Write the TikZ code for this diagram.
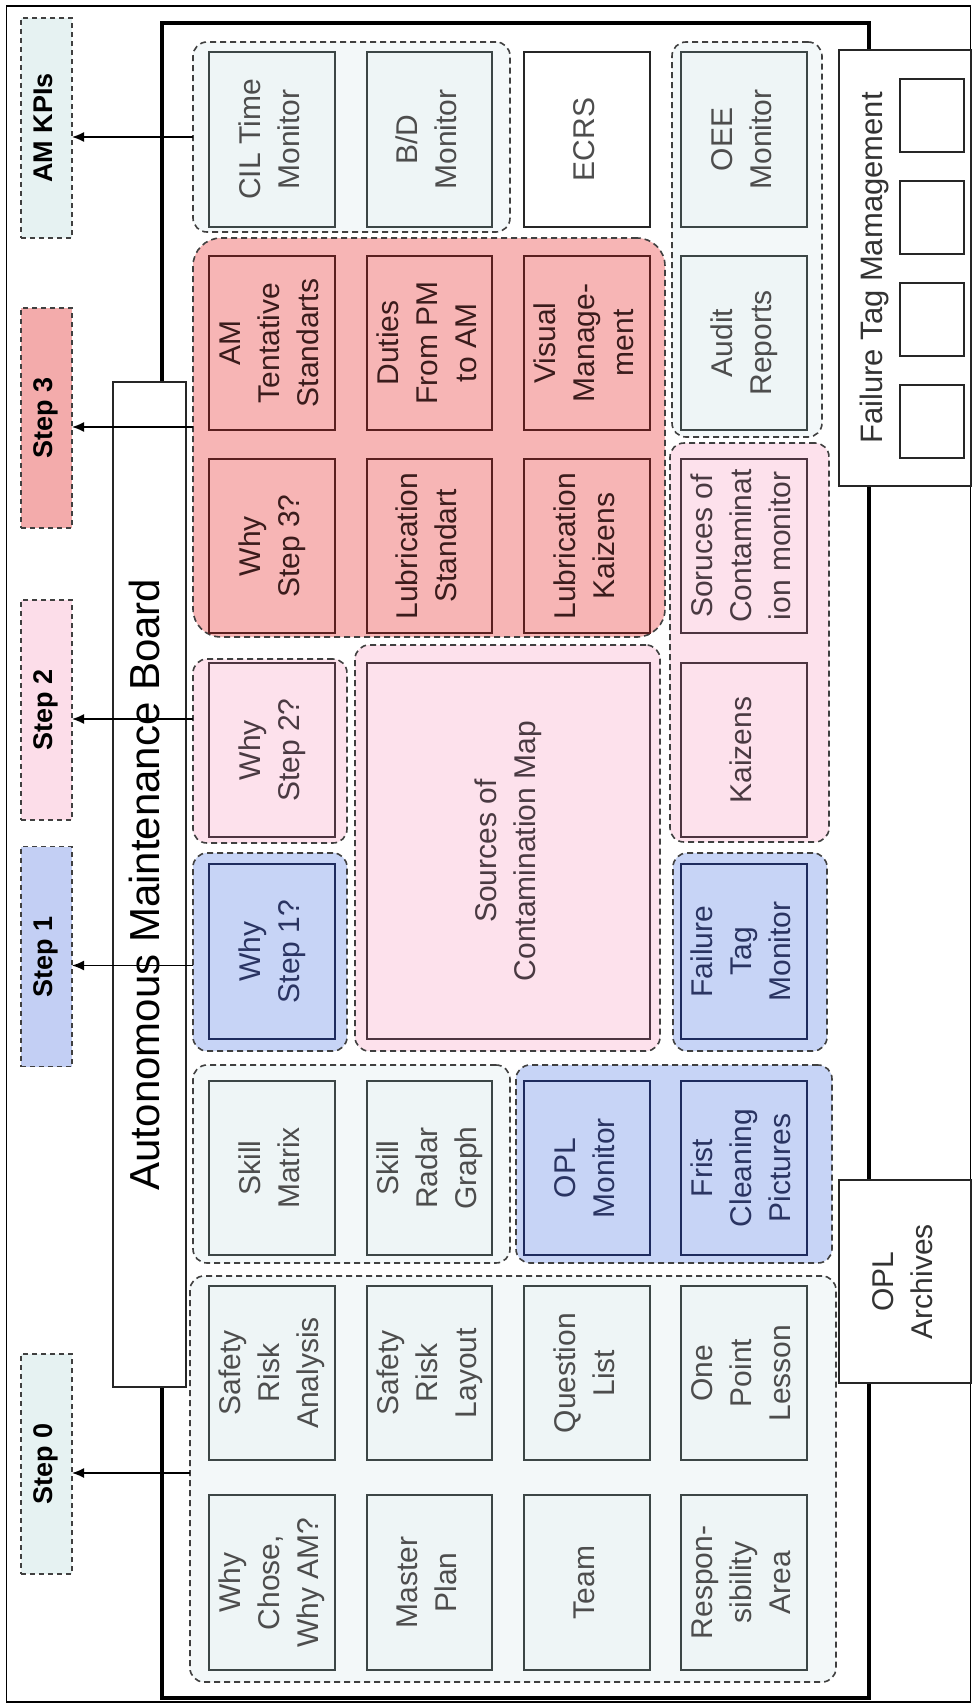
\documentclass[tikz,border=0pt]{standalone}
\usepackage{fontspec}
\setmainfont{Liberation Sans}
\usetikzlibrary{arrows.meta}
\definecolor{fGrey}{HTML}{EEF5F6}
\definecolor{gGrey}{HTML}{F3F8F9}
\definecolor{lGrey}{HTML}{E6F2F2}
\definecolor{fRed}{HTML}{F7B5B5}
\definecolor{lRed}{HTML}{F3ABAB}
\definecolor{fPink}{HTML}{FDE1EC}
\definecolor{lPink}{HTML}{FCDDE9}
\definecolor{fBlue}{HTML}{C7D4F6}
\definecolor{lBlue}{HTML}{C3CFF4}
\definecolor{bGrey}{HTML}{3C4646}
\definecolor{bRed}{HTML}{5A1F1F}
\definecolor{bPink}{HTML}{4D3440}
\definecolor{bBlue}{HTML}{1E2B5E}
\definecolor{tGrey}{HTML}{4D4D4D}
\definecolor{tRed}{HTML}{3B1C1C}
\definecolor{tPink}{HTML}{4A3A42}
\definecolor{tBlue}{HTML}{2A3462}
\definecolor{dashc}{HTML}{404040}

\newcommand{\rt}[1]{\rotatebox{90}{\begin{tabular}{@{}c@{}}#1\end{tabular}}}
\newcommand{\mybox}[7]{\node[#6, minimum width={(#4)-(#2)}, minimum height={(#5)-(#3)}] (#1) at ({((#2)+(#4))/2},{((#3)+(#5))/2}) {\rt{#7}};}
\newcommand{\mygrp}[6]{\node[#6, minimum width={(#4)-(#2)}, minimum height={(#5)-(#3)}] (#1) at ({((#2)+(#4))/2},{((#3)+(#5))/2}) {};}

\tikzset{
  base/.style={inner sep=0pt, outer sep=0pt, font=\fontsize{30}{39}\selectfont},
  bxg/.style={base, draw=bGrey, fill=fGrey, line width=1.2pt, text=tGrey},
  bxr/.style={base, draw=bRed, fill=fRed, line width=1.2pt, text=tRed},
  bxp/.style={base, draw=bPink, fill=fPink, line width=1.2pt, text=tPink},
  bxb/.style={base, draw=bBlue, fill=fBlue, line width=1.2pt, text=tBlue},
  bxw/.style={base, draw=black!85, fill=white, line width=1.2pt, text=tGrey},
  grp/.style={inner sep=0pt, outer sep=0pt, draw=dashc, line width=1.6pt, dash pattern=on 6pt off 4pt, rounded corners=14pt},
  grpg/.style={grp, fill=gGrey},
  grpr/.style={grp, fill=fRed, rounded corners=28pt},
  grpp/.style={grp, fill=fPink},
  grpb/.style={grp, fill=fBlue},
  lbl/.style={inner sep=0pt, outer sep=0pt, draw=dashc, line width=1.3pt, dash pattern=on 5pt off 4pt,
    minimum width=51pt, minimum height=220pt, font=\bfseries\fontsize{27}{32}\selectfont, text=black},
  arr/.style={line width=1.5pt, -{Latex[length=12pt,width=10pt]}},
  wbox/.style={inner sep=0pt, outer sep=0pt, draw=black!85, fill=white, line width=1.2pt, text=black!80},
}

\begin{document}
\begin{tikzpicture}[x=1pt,y=-1pt]
\useasboundingbox (0,0) rectangle (975,1707);
% frames
\node[draw=black, line width=1.2pt, inner sep=0pt, outer sep=0pt, minimum width=964pt, minimum height=1696pt] (outer) at (488.5,854) {};
\node[draw=black, line width=3.5pt, inner sep=0pt, outer sep=0pt, minimum width=707pt, minimum height=1675pt] (board) at (515.5,860.5) {};
\node[wbox, text=black, font=\fontsize{42}{50}\selectfont, minimum width=73pt, minimum height=1005pt] (tb) at (149.5,884.5) {\rt{Autonomous Maintenance Board}};
\node[wbox, font=\fontsize{31}{39}\selectfont, minimum width=132pt, minimum height=436pt] (ftmb) at (905,268) {\rt{\raisebox{30pt}[0pt][0pt]{Failure Tag Mamagement}}};
\node[wbox, font=\fontsize{30}{39}\selectfont, minimum width=132pt, minimum height=203pt] (oplb) at (905,1281.5) {\rt{OPL\\Archives}};
\node[wbox, minimum width=64pt, minimum height=73pt] (q1) at (932,115.5) {};
\node[wbox, minimum width=64pt, minimum height=73pt] (q2) at (932,217.5) {};
\node[wbox, minimum width=64pt, minimum height=73pt] (q3) at (932,319.5) {};
\node[wbox, minimum width=64pt, minimum height=73pt] (q4) at (932,421.5) {};

% groups
\mygrp{gkpi}{193}{42}{510}{232}{grpg}
\mygrp{goee}{672}{42}{822}{437}{grpg}
\mygrp{g3}{193}{238}{665}{637}{grpr}
\mygrp{g2b}{670}{443}{829}{842}{grpp}
\mygrp{g2a}{193}{659}{347}{843}{grpp}
\mygrp{gmap}{355}{645}{660}{1051}{grpp}
\mygrp{g1a}{193}{853}{347}{1051}{grpb}
\mygrp{g1b}{673}{853}{827}{1051}{grpb}
\mygrp{gskill}{193}{1065}{510}{1263}{grpg}
\mygrp{g1c}{516}{1065}{832}{1263}{grpb}
\mygrp{g0}{190}{1276}{836}{1682}{grpg}

% boxes: columns A 209-335, B 367-492, C 524-650, D 681-807
\mybox{cil}{209}{52}{335}{227}{bxg}{CIL Time\\Monitor}
\mybox{bd}{367}{52}{492}{227}{bxg}{B/D\\Monitor}
\mybox{ecrs}{524}{52}{650}{227}{bxw}{ECRS}
\mybox{oee}{681}{52}{807}{227}{bxg}{OEE\\Monitor}
\mybox{amt}{209}{256}{335}{430}{bxr}{AM\\Tentative\\Standarts}
\mybox{duties}{367}{256}{492}{430}{bxr}{Duties\\From PM\\to AM}
\mybox{visual}{524}{256}{650}{430}{bxr}{Visual\\Manage-\\ment}
\mybox{audit}{681}{256}{807}{430}{bxg}{Audit\\Reports}
\mybox{why3}{209}{459}{335}{633}{bxr}{Why\\Step 3?}
\mybox{lubs}{367}{459}{492}{633}{bxr}{Lubrication\\Standart}
\mybox{lubk}{524}{459}{650}{633}{bxr}{Lubrication\\Kaizens}
\mybox{scm}{681}{459}{807}{633}{bxp}{Soruces of\\Contaminat\\ion monitor}
\mybox{why2}{209}{663}{335}{837}{bxp}{Why\\Step 2?}
\mybox{map}{367}{663}{650}{1039}{bxp}{Sources of\\Contamination Map}
\mybox{kaiz}{681}{663}{807}{837}{bxp}{Kaizens}
\mybox{why1}{209}{864}{335}{1039}{bxb}{Why\\Step 1?}
\mybox{ftmon}{681}{864}{807}{1039}{bxb}{Failure\\Tag\\Monitor}
\mybox{skm}{209}{1081}{335}{1255}{bxg}{Skill\\Matrix}
\mybox{skr}{367}{1081}{492}{1255}{bxg}{Skill\\Radar\\Graph}
\mybox{oplm}{524}{1081}{650}{1255}{bxb}{OPL\\Monitor}
\mybox{fcp}{681}{1081}{807}{1255}{bxb}{Frist\\Cleaning\\Pictures}
\mybox{sra}{209}{1286}{335}{1460}{bxg}{Safety\\Risk\\Analysis}
\mybox{srl}{367}{1286}{492}{1460}{bxg}{Safety\\Risk\\Layout}
\mybox{ql}{524}{1286}{650}{1460}{bxg}{Question\\List}
\mybox{opl}{681}{1286}{807}{1460}{bxg}{One\\Point\\Lesson}
\mybox{wca}{209}{1495}{335}{1670}{bxg}{Why\\Chose,\\Why AM?}
\mybox{mp}{367}{1495}{492}{1670}{bxg}{Master\\Plan}
\mybox{team}{524}{1495}{650}{1670}{bxg}{Team}
\mybox{resp}{681}{1495}{807}{1670}{bxg}{Respon-\\sibility\\Area}

% step labels
\node[lbl, fill=lGrey] (kpis) at (46.5,128) {\rt{AM KPIs}};
\node[lbl, fill=lRed] (s3) at (46.5,418) {\rt{Step 3}};
\node[lbl, fill=lPink] (s2) at (46.5,710) {\rt{Step 2}};
\node[lbl, fill=lBlue] (s1) at (46.5,956.5) {\rt{Step 1}};
\node[lbl, fill=lGrey] (s0) at (46.5,1464) {\rt{Step 0}};

% arrows
\begin{scope}[transform canvas={yshift=-9pt}]
\draw[arr] (gkpi.west |- kpis.east) -- (kpis.east);
\draw[arr] (g3.west |- s3.east) -- (s3.east);
\draw[arr] (g2a.west |- s2.east) -- (s2.east);
\draw[arr] (g1a.west |- s1.east) -- (s1.east);
\draw[arr] (g0.west |- s0.east) -- (s0.east);
\end{scope}
\end{tikzpicture}
\end{document}
